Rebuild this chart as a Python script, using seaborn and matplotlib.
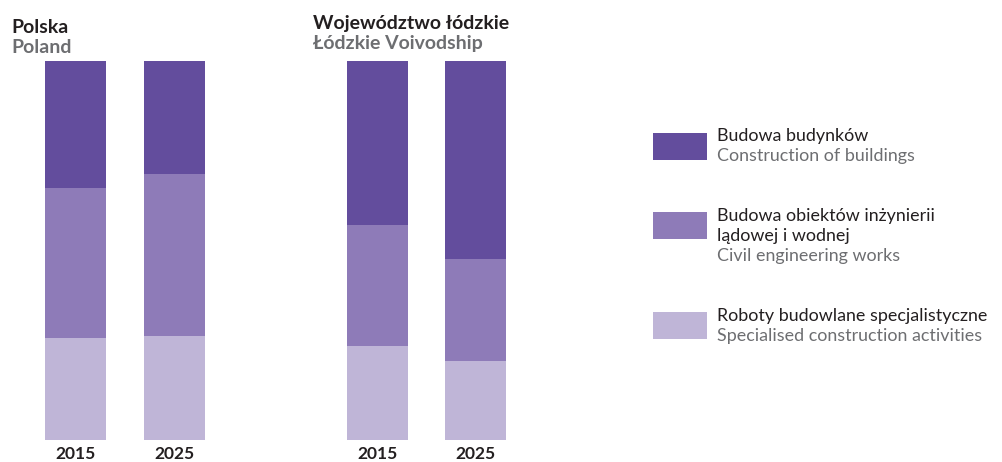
import matplotlib
matplotlib.use('Agg')
import matplotlib.pyplot as plt
import seaborn as sns
import pandas as pd
from matplotlib.patches import Rectangle

# ---- data (shares, %) ----
regions_pl = ['Polska', 'Województwo łódzkie']
regions_en = ['Poland', 'Łódzkie Voivodship']
years = ['2015', '2025']
# order: region 1 (2015, 2025), region 2 (2015, 2025)
buildings = [33.6, 29.9, 43.3, 52.4]
civil = [39.6, 42.8, 32.0, 26.9]
specialised = [26.8, 27.3, 24.7, 20.7]

series_pl = ['Budowa budynków', 'Budowa obiektów inżynierii\nlądowej i wodnej',
             'Roboty budowlane specjalistyczne']
series_en = ['Construction of buildings', 'Civil engineering works',
             'Specialised construction activities']
colors = ['#634d9d', '#8e7bb8', '#bfb5d7']

sns.set_theme(style='white')
plt.rcParams['font.family'] = ['Lato', 'DejaVu Sans']

df = pd.DataFrame({
    'region': [regions_pl[0]] * 2 + [regions_pl[1]] * 2,
    'year': years * 2,
    'buildings': buildings,
    'civil': civil,
    'specialised': specialised,
})
df['lvl_top'] = df['buildings'] + df['civil'] + df['specialised']
df['lvl_mid'] = df['civil'] + df['specialised']
df['lvl_low'] = df['specialised']

W, H = 1003, 462
fig = plt.figure(figsize=(W / 100, H / 100), dpi=100)

BLACK = '#231f20'
GRAY = '#6d6e71'

ax_specs = [(26, 198), (328.5, 196)]
y_bot, y_top = 439.5, 61
for i, reg in enumerate(regions_pl):
    left, width = ax_specs[i]
    ax = fig.add_axes([left / W, 1 - y_bot / H, width / W, (y_bot - y_top) / H])
    sub = df[df['region'] == reg]
    for col, c in zip(['lvl_top', 'lvl_mid', 'lvl_low'], colors):
        sns.barplot(data=sub, x='year', y=col, color=c, width=0.62,
                    saturation=1, ax=ax, order=years, linewidth=0,
                    edgecolor='none')
    ax.set_ylim(0, 100)
    ax.set_xlim(-0.5, 1.5)
    ax.set_xlabel('')
    ax.set_ylabel('')
    ax.set_yticks([])
    sns.despine(ax=ax, left=True, bottom=True)
    ax.tick_params(axis='x', length=0, pad=5)
    for lab in ax.get_xticklabels():
        lab.set_fontweight('bold')
        lab.set_fontsize(12.5)
        lab.set_color(BLACK)

# region titles
title_pos = [(11, 33, 53), (313, 29, 49)]
for (x, b1, b2), tpl, ten in zip(title_pos, regions_pl, regions_en):
    fig.text(x / W, 1 - b1 / H, tpl, fontsize=14, fontweight='bold',
             color=BLACK, va='baseline', ha='left')
    fig.text(x / W, 1 - b2 / H, ten, fontsize=14, fontweight='bold',
             color=GRAY, va='baseline', ha='left')

# legend
patch_tops = [133, 212, 312]
text_base = [141, 221, 321]
for c, pt, tb, spl, sen in zip(colors, patch_tops, text_base, series_pl, series_en):
    fig.patches.append(Rectangle((653 / W, 1 - (pt + 27) / H), 54 / W, 27 / H,
                                 transform=fig.transFigure, color=c, lw=0))
    lines = spl.split('\n')
    for k, ln in enumerate(lines):
        fig.text(717 / W, 1 - (tb + 20 * k) / H, ln, fontsize=12.9,
                 color=BLACK, va='baseline', ha='left')
    fig.text(717 / W, 1 - (tb + 20 * len(lines)) / H, sen, fontsize=12.9,
             color=GRAY, va='baseline', ha='left')

fig.savefig('out.png', dpi=100)
